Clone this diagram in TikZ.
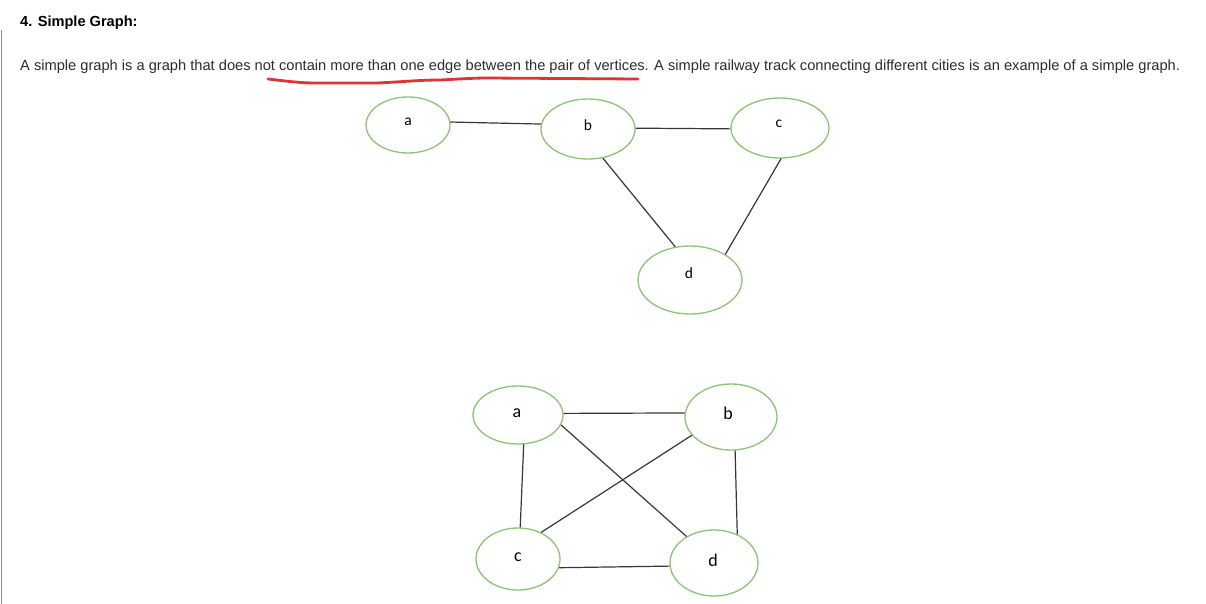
\documentclass[tikz,border=0pt]{standalone}
\usepackage{fontspec}
\setmainfont{Liberation Sans}
\newfontfamily\lblfont{Carlito}
\usetikzlibrary{shapes.geometric}
\definecolor{vgreen}{RGB}{140,196,118}
\definecolor{edgegray}{RGB}{55,55,55}
\definecolor{txtgray}{RGB}{45,45,45}
\definecolor{redmark}{RGB}{222,52,52}
\definecolor{sidegray}{RGB}{140,140,140}
\tikzset{
  vert/.style={ellipse, draw=vgreen, line width=1.3pt, inner sep=0pt},
  lblsmall/.style={font=\lblfont\fontsize{15.5}{15.5}\selectfont, text=black},
  lblbig/.style={font=\lblfont\fontsize{18}{18}\selectfont, text=black},
  edge/.style={draw=edgegray, line width=1.2pt},
  txt/.style={anchor=base west, inner sep=0pt, text=txtgray}
}
\begin{document}
\begin{tikzpicture}[x=1pt,y=-1pt]
\useasboundingbox[fill=white] (0,0) rectangle (1206,604);
\draw[sidegray, line width=1.8pt] (1.5,30) -- (1.5,604);
\node[txt, text=black, font=\bfseries\fontsize{14.6}{16}\selectfont] (title) at (20,27) {4. Simple Graph:};
\node[txt, font=\fontsize{14.65}{16}\selectfont] (body) at (20,71) {A simple graph is a graph that does not contain more than one edge between the pair of vertices. A simple railway track connecting different cities is an example of a simple graph.};
\draw[redmark, line width=2.8pt, line cap=round]
  (268,79) .. controls (285,81) and (300,83) .. (315,83)
  -- (377,83) .. controls (400,82) and (420,80) .. (440,80)
  .. controls (460,79) and (475,78) .. (487,78) -- (638,79);
% top graph
\node[vert, minimum width=84pt, minimum height=56pt] (a1) at (408,125) {};
\node[vert, minimum width=94pt, minimum height=60pt] (b1) at (588,129) {};
\node[vert, minimum width=98pt, minimum height=60pt] (c1) at (780,128) {};
\node[vert, minimum width=104pt, minimum height=68pt] (d1) at (690,280) {};
\node[lblsmall] (la1) at (408,122) {a};
\node[lblsmall] (lb1) at (588,125) {b};
\node[lblsmall] (lc1) at (779,124) {c};
\node[lblsmall] (ld1) at (689,273) {d};
\draw[edge] (a1.4) -- (b1.174);
\draw[edge] (b1.1) -- (c1.-179);
\draw[edge] (b1.-63) -- (d1.114);
\draw[edge] (c1.-88) -- (d1.36);
% bottom graph
\node[vert, minimum width=90pt, minimum height=58pt] (a2) at (518,415) {};
\node[vert, minimum width=92pt, minimum height=66pt] (b2) at (731,417) {};
\node[vert, minimum width=84pt, minimum height=62pt] (c2) at (518,559) {};
\node[vert, minimum width=88pt, minimum height=66pt] (d2) at (714,563) {};
\node[lblbig] (la2) at (517,413) {a};
\node[lblbig] (lb2) at (728,413) {b};
\node[lblbig] (lc2) at (518,557) {c};
\node[lblbig] (ld2) at (713,560) {d};
\draw[edge] (a2.2) -- (b2.175);
\draw[edge] (a2.-13) -- (d2.136);
\draw[edge] (b2.-155) -- (c2.49);
\draw[edge] (a2.-79) -- (c2.86);
\draw[edge] (b2.-83) -- (d2.51);
\draw[edge] (c2.-12) -- (d2.-176);
\end{tikzpicture}
\end{document}
